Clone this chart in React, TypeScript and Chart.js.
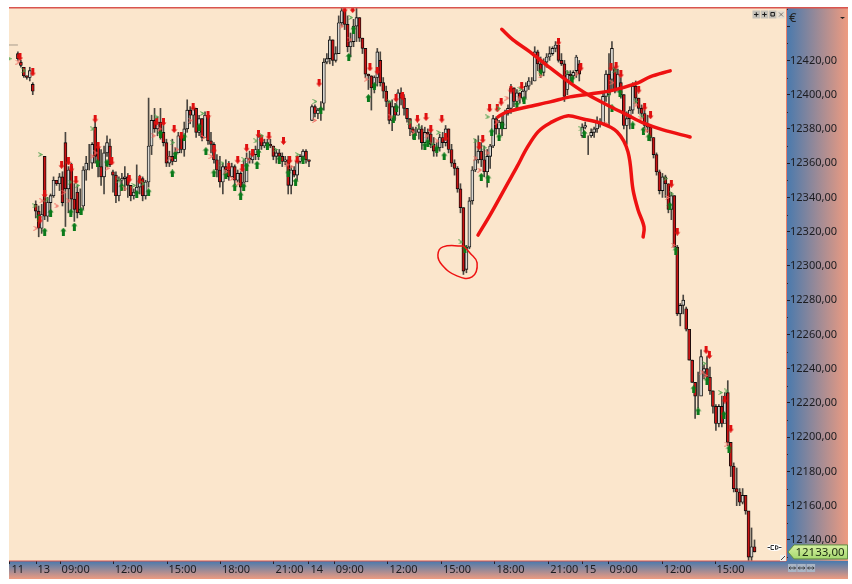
import React, { useEffect, useRef } from "react";
import { Chart, registerables } from "chart.js";

Chart.register(...registerables);

// Candles: the first one sits in bar slot 3 of the time axis, then one per slot.
const firstSlot = 3;
const opens = [
  12424,12419,12416,12411,12410,12406,
  12336,12332,12322,12364,12329,12337,12341,12350,12348,12352,
  12372,12345,12358,12339,12343,12331,12335,12356,12360,12360,
  12381,12369,12358,12352,12366,12370,12355,12353,12341,12350,
  12351,12352,12347,12341,12343,12346,12351,12341,12349,12370,
  12385,12380,12384,12378,12372,12360,12364,12361,12366,12376,
  12368,12380,12391,12388,12392,12378,12386,12375,12388,12373,
  12371,12362,12356,12349,12358,12356,12352,12358,12350,12354,
  12346,12349,12363,12362,12365,12368,12376,12370,12372,12371,
  12370,12364,12366,12364,12361,12362,12347,12356,12353,12361,
  12364,12367,12362,
  12385,12393,12389,12391,12395,12419,12421,12432,12420,12424,
  12442,12449,12441,12428,12431,12440,12445,12433,12427,12412,
  12411,12404,12410,12420,12407,12402,12396,12385,12393,12388,
  12401,12398,12392,12386,12380,12378,12378,12380,12372,12378,
  12377,12371,12367,12369,12375,12372,12380,12368,12360,12357,
  12345,12334,12298,12311,12338,12356,12362,12367,12362,12355,
  12364,12370,12386,12380,12384,12380,12389,12392,12404,12396,
  12401,12398,12402,12405,12408,12408,12425,12418,12413,12419,
  12422,12424,12427,12429,12420,12418,12403,12412,12411,12414,
  12418,12376,12381,12376,12376,12378,12380,12384,12383,12399,
  12412,12409,12415,12402,12407,12400,12382,12386,12391,12405,
  12398,12392,12389,12382,12381,12375,12365,12355,12344,12352,
  12348,12333,12341,12311,12272,12277,12275,12263,12245,12232,
  12224,12224,12238,12240,12235,12227,12218,12208,12218,12208,
  12226,12197,12183,12170,12168,12162,12166,12157,12130,12136,
];
const highs = [
  12425,12420,12416,12411,12416,12407,
  12338,12335,12336,12364,12340,12342,12352,12350,12354,12355,
  12378,12358,12360,12348,12347,12345,12358,12364,12371,12372,
  12385,12372,12368,12370,12376,12374,12356,12355,12352,12354,
  12358,12354,12347,12345,12359,12353,12352,12350,12398,12388,
  12392,12387,12392,12382,12374,12367,12374,12369,12378,12378,
  12384,12397,12393,12395,12392,12388,12386,12390,12390,12378,
  12372,12365,12364,12360,12362,12361,12360,12359,12356,12355,
  12362,12366,12367,12366,12370,12378,12376,12374,12374,12374,
  12370,12368,12368,12366,12364,12364,12358,12358,12362,12365,
  12368,12368,12362,
  12394,12394,12392,12396,12421,12424,12434,12432,12428,12446,
  12451,12451,12446,12436,12444,12451,12445,12433,12427,12412,
  12411,12411,12427,12425,12410,12405,12396,12397,12395,12403,
  12404,12400,12392,12386,12381,12381,12383,12382,12381,12380,
  12381,12375,12372,12377,12378,12382,12380,12371,12362,12358,
  12348,12334,12312,12340,12358,12374,12376,12372,12370,12368,
  12371,12388,12387,12385,12388,12391,12394,12406,12404,12403,
  12401,12403,12407,12410,12410,12428,12426,12422,12421,12424,
  12428,12428,12431,12429,12424,12420,12414,12414,12414,12423,
  12420,12383,12384,12376,12380,12381,12387,12386,12401,12414,
  12424,12431,12416,12415,12410,12400,12390,12393,12407,12408,
  12398,12394,12391,12388,12382,12375,12366,12356,12354,12353,
  12348,12343,12341,12312,12278,12283,12276,12263,12245,12232,
  12238,12251,12242,12247,12241,12227,12219,12219,12224,12226,
  12233,12197,12185,12182,12170,12170,12165,12156,12147,12140,
];
const lows = [
  12420,12416,12410,12409,12408,12400,
  12328,12317,12319,12327,12326,12330,12340,12347,12344,12335,
  12323,12331,12330,12326,12328,12330,12333,12350,12356,12357,
  12360,12352,12347,12342,12364,12358,12343,12337,12338,12344,
  12344,12340,12338,12339,12341,12342,12338,12339,12346,12365,
  12378,12376,12374,12370,12358,12358,12359,12361,12366,12366,
  12364,12378,12383,12381,12375,12376,12373,12375,12371,12366,
  12360,12352,12346,12342,12354,12350,12353,12346,12349,12340,
  12346,12351,12360,12360,12362,12362,12368,12369,12370,12369,
  12362,12360,12362,12358,12359,12342,12342,12352,12350,12360,
  12360,12360,12358,
  12385,12387,12386,12385,12391,12418,12418,12417,12419,12424,
  12440,12438,12425,12422,12428,12431,12431,12424,12410,12403,
  12391,12401,12405,12405,12398,12393,12383,12379,12385,12388,
  12394,12388,12384,12376,12374,12376,12374,12368,12373,12374,
  12369,12364,12364,12367,12369,12370,12366,12358,12353,12343,
  12331,12295,12296,12310,12336,12355,12360,12358,12352,12346,
  12357,12369,12377,12377,12376,12382,12388,12389,12393,12393,
  12395,12396,12398,12403,12406,12408,12414,12410,12411,12416,
  12420,12423,12425,12419,12417,12396,12400,12408,12409,12410,
  12408,12375,12380,12365,12375,12375,12378,12381,12383,12396,
  12381,12402,12401,12404,12398,12380,12371,12380,12389,12395,
  12389,12387,12380,12378,12373,12363,12353,12342,12340,12340,
  12331,12327,12311,12271,12265,12272,12262,12245,12232,12211,
  12217,12232,12234,12231,12225,12214,12204,12206,12206,12212,
  12195,12177,12168,12160,12160,12161,12155,12128,12128,12133,
];
const closes = [
  12421,12417,12411,12410,12414,12402,
  12332,12322,12330,12329,12337,12341,12350,12348,12352,12337,
  12345,12356,12339,12333,12331,12333,12356,12360,12360,12371,
  12364,12358,12352,12366,12372,12359,12353,12341,12350,12351,
  12352,12347,12341,12343,12346,12351,12341,12349,12370,12385,
  12380,12384,12378,12372,12360,12364,12361,12366,12376,12368,
  12380,12391,12388,12392,12378,12386,12375,12388,12373,12371,
  12362,12356,12349,12358,12356,12352,12358,12350,12354,12346,
  12349,12363,12362,12365,12368,12376,12370,12372,12371,12370,
  12364,12366,12364,12361,12362,12347,12356,12353,12361,12364,
  12367,12362,12361,
  12393,12389,12391,12392,12419,12421,12432,12420,12424,12442,
  12449,12441,12428,12431,12440,12445,12433,12427,12412,12411,
  12404,12410,12425,12407,12402,12396,12385,12393,12388,12401,
  12398,12392,12386,12380,12378,12378,12380,12372,12378,12377,
  12371,12367,12369,12375,12372,12380,12368,12360,12357,12345,
  12334,12297,12311,12338,12356,12362,12367,12362,12355,12364,
  12370,12386,12380,12384,12380,12389,12392,12404,12396,12401,
  12398,12402,12405,12408,12408,12425,12418,12413,12419,12422,
  12424,12427,12429,12420,12418,12399,12412,12411,12413,12422,
  12412,12381,12382,12376,12378,12380,12384,12383,12399,12412,
  12400,12427,12402,12412,12400,12382,12386,12391,12405,12398,
  12392,12389,12382,12381,12375,12365,12355,12344,12352,12348,
  12333,12341,12311,12272,12277,12280,12263,12245,12232,12224,
  12224,12247,12240,12235,12227,12218,12208,12218,12208,12224,
  12197,12183,12170,12168,12162,12166,12157,12130,12136,12133,
];

// Signal markers: [bar slot, price]
const sellArrows = [
  [3.7,12422],[8,12413],[12,12342],[10.4,12327],[17.7,12359],[20,12361],[21,12357],[22.5,12350],[29,12386],[30,12370],
  [34.6,12361],[40.5,12351],[44,12350],[49.7,12384],[52,12384],[55.6,12380],[58,12376],[62,12393],[67,12388],[69,12368],
  [74,12358],[77,12362],[78.5,12357],[80,12369],[82,12366],[84,12377],[85,12374],[87.5,12376],[92.4,12373],[94.5,12362],
  [97,12362],[104.4,12407],[113,12450],[115.7,12450],[121.5,12416],[124,12414],[130.3,12398],[132.5,12399],[137.5,12386],
  [140.4,12387],[142,12380],[145.7,12386],[147,12375],[158.3,12370],[159.5,12374],[161.8,12392],[164.4,12392],[165.7,12396],
  [169,12403],[172.6,12405],[185,12431],[192.5,12416],[202.7,12416],[204.4,12417],[206,12412],[212,12403],[214,12393],
  [216,12388],[223,12348],[225,12320],[234.7,12251],[235.8,12248],[241,12222],[243,12205],
];
const buyArrows = [
  [10,12328],[12,12320],[14,12331],[18.3,12320],[20.8,12331],[22,12323],[24.3,12332],[29.8,12360],[33,12360],[38,12346],
  [43,12342],[47,12343],[51,12377],[55,12354],[56,12365],[59,12375],[64,12381],[66.3,12367],[69,12354],[73,12353],
  [76,12346],[78,12341],[79,12346],[80,12358],[83.5,12359],[84,12366],[87,12370],[91,12362],[94,12354],[96.5,12349],
  [99,12362],[105,12391],[114.4,12422],[116,12438],[121,12398],[123,12405],[129.4,12386],[130.5,12392],[136.5,12376],
  [140,12370],[141,12372],[144,12368],[146.5,12364],[153.5,12310],[159,12352],[161.3,12351],[162.5,12378],[165,12375],
  [166,12382],[171,12394],[173.4,12397],[179,12413],[189.6,12409],[193.7,12377],[203,12392],[205.7,12401],[210,12382],
  [213.6,12379],[215.4,12375],[222.5,12335],[224.5,12309],[230.5,12228],[232,12215],[235,12233],[240.7,12213],[242.4,12193],
];
const sellHints = [
  [3,12419],[9,12322],[11,12338],[16,12335],[18.5,12343],[20,12338],[28,12364],[29,12366],[33,12357],[39,12345],
  [48.6,12376],[50.6,12380],[54,12363],[56.5,12368],[61,12385],[65.5,12375],[68,12364],[73,12355],[75,12351],[77,12348],
  [80.6,12362],[93.5,12359],[95,12358],[102.8,12385],[112,12440],[114.8,12432],[120.2,12409],[128.5,12387],[136,12378],
  [140.6,12376],[144,12373],[157,12363],[158.4,12356],[161,12366],[164.2,12384],[167.6,12398],[171.7,12398],[178.9,12411],
  [191,12412],[201,12383],[203,12407],[211,12394],[212.7,12386],[214.5,12379],[221.7,12340],[223.7,12312],[233.3,12238],
  [234.4,12236],[241.7,12196],
];
const buyHints = [
  [0,12421],[5,12414],[8.5,12335],[10.5,12365],[12.7,12339],[20.5,12349],[23,12347],[28,12380],[37,12350],[42,12347],
  [45,12348],[49.5,12387],[55,12372],[65,12389],[71.7,12360],[79,12362],[83,12373],[85,12376],[89.6,12368],[97,12365],
  [103,12396],[115,12445],[128,12396],[135,12384],[138,12381],[142.4,12371],[144.5,12378],[152,12314],[157,12373],[160,12369],
  [161,12387],[164.8,12392],[172,12403],[188,12413],[192.5,12380],[202,12400],[204,12414],[211,12396],[213,12387],
  [220.9,12351],[223,12342],[234,12243],[239.5,12226],[241.4,12227],
];

// Hand-drawn annotations: [bar slot, price]
const strokeFalling = [
  [165.9,12438.2],[169.7,12432],[175.4,12425],[182.2,12415.6],[188.9,12406.9],[195,12399.9],
  [201.4,12394],[208.1,12388.2],[213.5,12383.5],[220.2,12379.4],[229.3,12375.3],
];
const strokeRising = [
  [164.6,12387],[167.7,12389.9],[174.4,12392.8],[182.2,12395.8],[188.9,12398.7],[195.6,12400.4],
  [202.4,12402.2],[211.8,12406.9],[215.8,12410.4],[222.6,12413.9],
];
const strokeArch = [
  [157.9,12318],[162,12329.8],[168,12348.5],[171,12357.8],[174.4,12368.9],[178.1,12378.3],[182.2,12383.5],
  [187.9,12387.6],[193.3,12385.8],[199,12383.5],[204.7,12378.3],[208.4,12366.6],[210.1,12344.4],
  [211.8,12332.7],[213.8,12322.8],[213.5,12316.9],
];
const strokeCircle = [
  [152.9,12311.7],[146.1,12311.1],[144.4,12306.4],[145.8,12300.6],[150.8,12294.2],[155.9,12293.6],
  [157.6,12301.8],[155.2,12307.6],[152.9,12311.7],
];
const previousBar = [[0,12429],[3,12429]];

const xTickSlots = [0.3,9.1,17.2,35.1,53.2,71.2,89.2,101,109.5,127.6,145.6,163.6,181.7,193,201.7,219.9,237.7];
const xTickLabels = ["11","13","09:00","12:00","15:00","18:00","21:00","14","09:00","12:00","15:00","18:00","21:00","15","09:00","12:00","15:00"];
const yMin = 12127.7;
const yMax = 12450.6;
const xMax = 261.6;
const topLabelledPrice = 12420;
const lastPrice = 12133;
const currency = "€";

const FONT = '"Noto Sans", sans-serif';

function arrowImage(color: string, down: boolean) {
  const c = document.createElement("canvas");
  c.width = 7;
  c.height = 8;
  const g = c.getContext("2d")!;
  g.fillStyle = color;
  g.translate(0, down ? 8 : 0);
  g.scale(1, down ? -1 : 1);
  g.beginPath();
  g.moveTo(3.5, 0);
  g.lineTo(6.5, 3.5);
  g.lineTo(5, 3.5);
  g.lineTo(5, 8);
  g.lineTo(2, 8);
  g.lineTo(2, 3.5);
  g.lineTo(0.5, 3.5);
  g.closePath();
  g.fill();
  return c;
}

function hintImage(color: string) {
  const c = document.createElement("canvas");
  c.width = 5;
  c.height = 5;
  const g = c.getContext("2d")!;
  g.strokeStyle = color;
  g.lineWidth = 1;
  g.beginPath();
  g.moveTo(0.5, 0.5);
  g.lineTo(4.5, 2.5);
  g.lineTo(0.5, 4.5);
  g.moveTo(2, 1.5);
  g.lineTo(3.5, 2.5);
  g.lineTo(2, 3.5);
  g.stroke();
  return c;
}

const toPoints = (rows: number[][]) => rows.map(([x, y]) => ({ x, y }));

const chrome = {
  id: "chrome",
  beforeDraw(chart: any) {
    const { ctx, chartArea: a } = chart;
    ctx.save();
    ctx.fillStyle = "#fbe6cc";
    ctx.fillRect(a.left, a.top, a.right - a.left, a.bottom - a.top);
    const h = ctx.createLinearGradient(a.right, 0, 848, 0);
    h.addColorStop(0, "#4779ae");
    h.addColorStop(1, "#ee9b80");
    ctx.fillStyle = h;
    ctx.fillRect(a.right, a.top, 848 - a.right, a.bottom - a.top);
    const v = ctx.createLinearGradient(0, a.bottom, 0, 579);
    v.addColorStop(0, "#4779ae");
    v.addColorStop(1, "#ee9b80");
    ctx.fillStyle = v;
    ctx.fillRect(a.left, a.bottom, 848 - a.left, 579 - a.bottom);
    ctx.restore();
  },
  afterDraw(chart: any) {
    const { ctx, chartArea: a, scales } = chart;
    const y = scales.y;
    ctx.save();
    // frame lines
    ctx.fillStyle = "#d9544f";
    ctx.fillRect(a.left, a.top - 1, 848 - a.left, 1.5);
    ctx.fillRect(a.left, a.bottom - 0.5, a.right - a.left, 1);
    ctx.fillStyle = "#e8806c";
    ctx.fillRect(a.right, a.top, 1, a.bottom - a.top);
    // minor price dots
    ctx.fillStyle = "#1e2a3a";
    for (let p = 12130; p < yMax; p += 20) {
      ctx.fillRect(a.right + 1, Math.round(y.getPixelForValue(p)), 1, 1);
    }
    // currency
    ctx.fillStyle = "#222";
    ctx.font = `13px ${FONT}`;
    ctx.textBaseline = "middle";
    ctx.textAlign = "left";
    ctx.fillText(currency, a.right + 3, 18);
    ctx.beginPath();
    ctx.moveTo(840, 17);
    ctx.lineTo(845, 17);
    ctx.lineTo(842.5, 19);
    ctx.closePath();
    ctx.fill();
    // pane buttons
    for (let i = 0; i < 4; i++) {
      const bx = 752.5 + i * 8.2;
      ctx.fillStyle = i === 3 ? "#e6ddd0" : "#c4c0b8";
      ctx.fillRect(bx, 10.5, 7.6, 8);
      ctx.strokeStyle = "#1a1a1a";
      ctx.fillStyle = "#1a1a1a";
      ctx.lineWidth = i === 3 ? 0.5 : 1;
      ctx.beginPath();
      if (i < 2) {
        ctx.moveTo(bx + 1.5, 14.5);
        ctx.lineTo(bx + 6, 14.5);
        ctx.moveTo(bx + 3.8, 12.3);
        ctx.lineTo(bx + 3.8, 16.7);
      } else if (i === 2) {
        ctx.rect(bx + 2, 12.5, 3.5, 3.5);
      } else {
        ctx.moveTo(bx + 2, 12.5);
        ctx.lineTo(bx + 6, 16.5);
        ctx.moveTo(bx + 6, 12.5);
        ctx.lineTo(bx + 2, 16.5);
      }
      ctx.stroke();
    }
    // last price tag
    const py = y.getPixelForValue(lastPrice);
    const g = ctx.createLinearGradient(0, py - 7, 0, py + 7);
    g.addColorStop(0, "#d6f0a0");
    g.addColorStop(1, "#a6d870");
    ctx.fillStyle = g;
    ctx.strokeStyle = "#5f8f42";
    ctx.lineWidth = 1;
    ctx.beginPath();
    ctx.moveTo(788, py);
    ctx.lineTo(794, py - 7);
    ctx.lineTo(847.5, py - 7);
    ctx.lineTo(847.5, py + 7);
    ctx.lineTo(794, py + 7);
    ctx.closePath();
    ctx.fill();
    ctx.stroke();
    ctx.fillStyle = "#1a2a10";
    ctx.font = `11.5px ${FONT}`;
    ctx.textAlign = "center";
    ctx.fillText(`${lastPrice},00`, 820, py + 0.5);
    // order marker pill (icon, no text)
    ctx.fillStyle = "#fff";
    ctx.beginPath();
    ctx.ellipse(774.5, 547.5, 7.5, 3.5, 0, 0, Math.PI * 2);
    ctx.fill();
    ctx.strokeStyle = "#333";
    ctx.lineWidth = 1;
    ctx.beginPath();
    ctx.moveTo(767.5, 547.5);
    ctx.lineTo(770, 547.5);
    ctx.moveTo(779, 547.5);
    ctx.lineTo(781.5, 547.5);
    ctx.moveTo(771, 545.5);
    ctx.lineTo(771, 549.5);
    ctx.lineTo(774, 549.5);
    ctx.moveTo(771, 545.5);
    ctx.lineTo(774, 545.5);
    ctx.moveTo(775.5, 545.5);
    ctx.lineTo(778, 546.5);
    ctx.lineTo(778, 548.5);
    ctx.lineTo(775.5, 549.5);
    ctx.lineTo(775.5, 545.5);
    ctx.stroke();
    // resize grip
    ctx.fillStyle = "#f4f0e8";
    ctx.fillRect(780, 555, 6, 6);
    ctx.strokeStyle = "#444";
    ctx.beginPath();
    ctx.moveTo(781, 560);
    ctx.lineTo(785, 556);
    ctx.stroke();
    // zoom buttons
    for (let i = 0; i < 3; i++) {
      const bx = 788 + i * 9.3;
      ctx.fillStyle = "#a8b4c4";
      ctx.fillRect(bx, 564, 8.5, 8);
      ctx.strokeStyle = "#2a2a2a";
      ctx.lineWidth = 0.8;
      ctx.beginPath();
      ctx.moveTo(bx + 1, 568);
      ctx.lineTo(bx + 7.5, 568);
      ctx.moveTo(bx + 2.5, 566.5);
      ctx.lineTo(bx + 1, 568);
      ctx.lineTo(bx + 2.5, 569.5);
      ctx.moveTo(bx + 6, 566.5);
      ctx.lineTo(bx + 7.5, 568);
      ctx.lineTo(bx + 6, 569.5);
      ctx.stroke();
    }
    ctx.restore();
  },
};

export default function App() {
  const ref = useRef<HTMLCanvasElement | null>(null);

  useEffect(() => {
    const slots = closes.map((_, i) => firstSlot + i);
    const isUp = (i: number) => closes[i] >= opens[i];
    const stroke = (rows: number[][], width: number, tension = 0.35) => ({
      type: "line" as const,
      data: toPoints(rows),
      borderColor: "#ee1111",
      borderWidth: width,
      pointRadius: 0,
      tension,
      borderCapStyle: "round" as const,
      order: 1,
    });
    const markers = (rows: number[][], image: HTMLCanvasElement) => ({
      type: "line" as const,
      data: toPoints(rows),
      showLine: false,
      pointStyle: image,
      pointRadius: 4,
      order: 2,
    });
    const chart = new Chart(ref.current!, {
      type: "bar",
      data: {
        datasets: [
          {
            type: "bar",
            data: slots.map((x, i) => ({ x, y: [lows[i], highs[i]] })),
            backgroundColor: "#4a4640",
            barThickness: 1,
            grouped: false,
            order: 6,
          },
          {
            type: "bar",
            data: slots.map((x, i) => ({ x, y: [opens[i], closes[i]] })),
            backgroundColor: slots.map((_, i) => (isUp(i) ? "#d8d6d0" : "#c81414")),
            borderColor: "#0c0c0c",
            borderWidth: 0.9,
            borderSkipped: false,
            barThickness: 3,
            grouped: false,
            order: 5,
          },
          {
            type: "line",
            data: toPoints(previousBar),
            borderColor: "#a89c8c",
            borderWidth: 1,
            pointRadius: 0,
            order: 4,
          },
          markers(sellHints, hintImage("#f06a60")),
          markers(buyHints, hintImage("#4da04d")),
          markers(sellArrows, arrowImage("#e01010", true)),
          markers(buyArrows, arrowImage("#0a7a1a", false)),
          stroke(strokeFalling, 3.5),
          stroke(strokeRising, 3.5),
          stroke(strokeArch, 3.5),
          stroke(strokeCircle, 1.5, 0.45),
        ] as any,
      },
      options: {
        responsive: false,
        animation: false,
        devicePixelRatio: 1,
        layout: { padding: { left: 9, top: 8, right: 4, bottom: 5 } },
        plugins: { legend: { display: false }, tooltip: { enabled: false } },
        scales: {
          x: {
            type: "linear",
            offset: false,
            min: 0,
            max: xMax,
            afterBuildTicks: (s: any) => {
              s.ticks = xTickSlots.map((value) => ({ value }));
            },
            afterFit: (s: any) => {
              s.height = 18;
            },
            grid: { drawOnChartArea: false, offset: false, tickLength: 3, tickColor: "#1a2030" },
            border: { display: false },
            ticks: {
              autoSkip: false,
              maxRotation: 0,
              align: "start",
              labelOffset: 1.5,
              padding: -1,
              color: "#1c1c20",
              font: { family: FONT, size: 11 },
              callback: (_v: any, i: number) => xTickLabels[i],
            },
          },
          y: {
            position: "right",
            min: yMin,
            max: yMax,
            afterFit: (s: any) => {
              s.width = 62;
            },
            grid: { drawOnChartArea: false, tickLength: 4, tickColor: "#1a2030" },
            border: { display: false },
            ticks: {
              stepSize: 20,
              includeBounds: false,
              padding: 0,
              color: "#1c1c20",
              font: { family: FONT, size: 11 },
              callback: (v: any) => (v > topLabelledPrice ? "" : `${v},00`),
            },
          },
        },
      } as any,
      plugins: [chrome],
    });
    return () => chart.destroy();
  }, []);

  return (
    <div style={{ position: "absolute", left: 0, top: 0, width: 852, height: 584, background: "#fff" }}>
      <canvas ref={ref} width={852} height={584} style={{ display: "block" }} />
    </div>
  );
}
